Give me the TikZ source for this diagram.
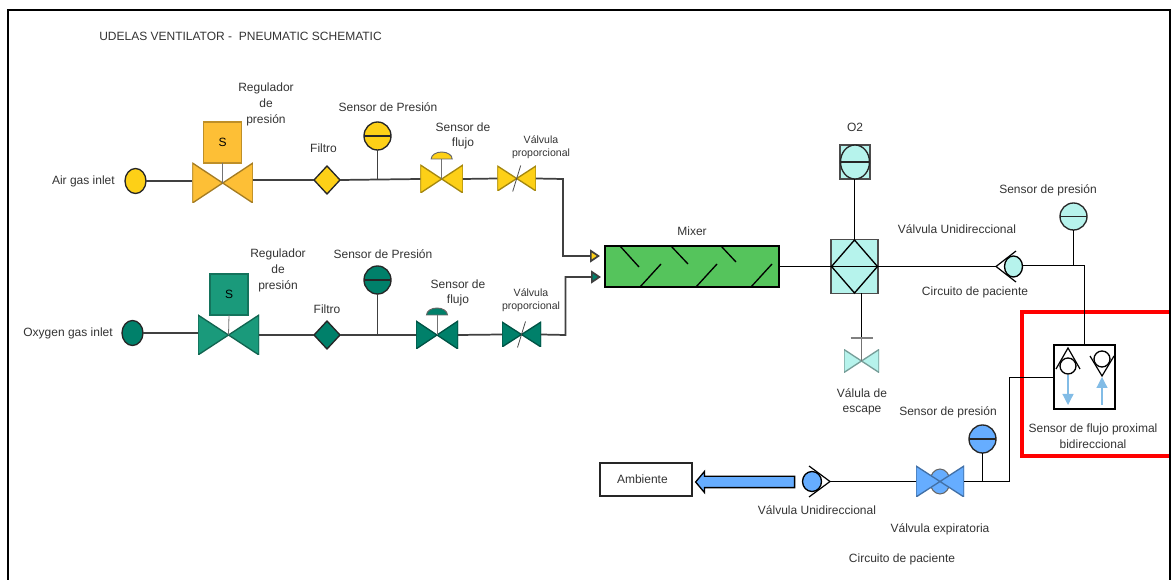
\documentclass[tikz,border=0pt]{standalone}
\usepackage{fontspec}
\setmainfont{Liberation Sans}
\usetikzlibrary{shapes, positioning, calc, arrows.meta}

\definecolor{airc}{HTML}{FDD017}
\definecolor{airreg}{HTML}{FDBF36}
\definecolor{oxyc}{HTML}{00806A}
\definecolor{oxyreg}{HTML}{1A9A7B}
\definecolor{mixc}{HTML}{55C45C}
\definecolor{cyanc}{HTML}{B6F3EC}
\definecolor{bluec}{HTML}{66ADFF}
\definecolor{flowc}{HTML}{82BCE6}
\definecolor{redc}{HTML}{FF0000}

\begin{document}
\begin{tikzpicture}[x=0.75pt, y=0.75pt]
  \newcommand\px{0.75pt}
  \newcommand\fsz{\fontsize{9}{11.7}\selectfont}
  \newcommand\fszsmall{\fontsize{7.9}{9.9}\selectfont}

  \tikzset{lbl/.style={inner sep=0, align=center, text=black!80, font=\fsz}}
  \tikzset{lblsmall/.style={lbl, font=\fszsmall}}
  \tikzset{sized/.style 2 args={inner sep=0, outer sep=0, minimum width=#1*\px, minimum height=#2*\px}}
  \tikzset{pipe/.style={line width=1.3pt, draw=black!75}}
  \tikzset{thinpipe/.style={line width=0.8pt, draw=black}}
  \tikzset{stem/.style={line width=0.6pt, draw=black!55}}
  \tikzset{bowtie/.style={path picture={
    \filldraw[fill=#1, draw=#1!65!black, line width=1pt] (path picture bounding box.north west) --
              (path picture bounding box.south east) --
              (path picture bounding box.north east) --
              (path picture bounding box.south west) -- cycle;}}}
  \tikzset{sensor/.style={ellipse, draw=black!85, line width=1pt, fill=#1, path picture={
    \draw[line width=1pt, black!85] (path picture bounding box.west) -- (path picture bounding box.east);}}}
  \tikzset{inlet/.style={ellipse, draw=black!85, line width=1pt, fill=#1}}
  \tikzset{filterbox/.style={diamond, aspect=0.93, draw=black!85, line width=1pt, fill=#1}}
  \tikzset{regbox/.style={draw=#1!75!black, line width=0.8pt, fill=#1, font=\fsz}}
  \tikzset{fedarrow/.style={pipe, -{Triangle[length=10*\px, width=13*\px, fill=#1]}}}
  \tikzset{chevron/.style={line width=0.9pt, draw=black}}
  \tikzset{flowarrow/.style={line width=0.9pt, flowc, -{Triangle[length=11*\px, width=11*\px]}}}

  \useasboundingbox (0, 0) rectangle (1171, -580);

  % highlight
  \draw[line width=3pt, redc] (1171, -312) -- (1021.5, -312) -- (1021.5, -456) -- (1171, -456);

  % frame
  \draw[line width=1.6pt, black] (8, -580) -- (8, -10) -- (1170, -10) -- (1170, -580);
  \node[lbl, anchor=west] at (99, -36) (title) {UDELAS VENTILATOR -\ \ PNEUMATIC SCHEMATIC};

  % air line
  \node[sized={21}{25}, inlet=airc] at (135.5, -181) (air-in) {};
  \node[sized={60.5}{40}, bowtie=airreg] at (222.7, -183) (air-reg) {};
  \node[sized={37.5}{41}, regbox=airreg] at (222.7, -142.5) (air-reg-s) {S};
  \node[sized={26}{28}, filterbox=airc] at (327, -180) (air-filter) {};
  \node[sized={27}{28}, sensor=airc] at (377.5, -136) (air-press) {};
  \node[sized={42.5}{28}, bowtie=airc] at (441.7, -179) (air-flow) {};
  \node[sized={38.5}{25}, bowtie=airc] at (516.7, -178.5) (air-prop) {};
  \coordinate (air-bend) at (563, -179);

  % oxygen line
  \node[sized={21}{25}, inlet=oxyc] at (132.5, -333) (oxy-in) {};
  \node[sized={61}{40}, bowtie=oxyreg] at (228.5, -335) (oxy-reg) {};
  \node[sized={38}{41}, regbox=oxyreg] at (229, -294.5) (oxy-reg-s) {S};
  \node[sized={26}{28}, filterbox=oxyc] at (327, -335) (oxy-filter) {};
  \node[sized={27}{28}, sensor=oxyc] at (377.5, -280) (oxy-press) {};
  \node[sized={42}{28}, bowtie=oxyc] at (437, -335) (oxy-flow) {};
  \node[sized={39}{25}, bowtie=oxyc] at (521.5, -334.5) (oxy-prop) {};
  \coordinate (oxy-bend) at (565.5, -335);

  \foreach \gas/\cap in {air/airc, oxy/oxyc}{
    \draw[stem] (\gas-reg-s.south) -- (\gas-reg.center);
    \draw[pipe] (\gas-in.east) -- (\gas-in.east -| \gas-reg.west);
    \draw[pipe] (\gas-filter.west -| \gas-reg.east) -- (\gas-filter.west);
    \draw[pipe] (\gas-filter.east) -- (\gas-flow.west);
    \draw[pipe] (\gas-flow.east) -- (\gas-prop.west);
    \draw[pipe] (\gas-press.south) -- (\gas-press.south |- \gas-filter.east);
    \draw[stem] (\gas-flow.center) -- ++(0, 20) coordinate (\gas-cap);
    \filldraw[fill=\cap, draw=black!60, line width=0.7pt] ($(\gas-cap)+(-10.5, 0)$) arc[start angle=180, end angle=0, x radius=10.5, y radius=7] -- cycle;
    \draw[line width=0.6pt, black!70] ($(\gas-prop.center)+(-4, -13)$) -- ($(\gas-prop.center)+(4, 13)$);
  }
  \coordinate (mixer-in1) at (600, -256);
  \coordinate (mixer-in2) at (601, -277);
  \draw[fedarrow=airc] (air-prop.east) -- (air-bend) |- (mixer-in1);
  \draw[fedarrow=oxyc] (oxy-prop.east) -- (oxy-bend) |- (mixer-in2);

  % mixer
  \node[sized={174}{41}, draw=black, line width=1pt, fill=mixc] at (692, -266.5) (mixer) {};
  \foreach \xa/\ya/\xb/\yb in {620/246/639/267, 671/246/688/264, 721/246/736/262, 640/287/661/264, 696/287/717/264, 751/287/772/264}{
    \draw[line width=1pt, black] (\xa, -\ya) -- (\xb, -\yb);
  }

  % oxygen cell and junction block
  \node[sized={47}{54}, draw=black!70, line width=1pt, fill=cyanc] at (854.5, -266.5) (block) {};
  \node[sized={46}{53}, diamond, draw=black, line width=1pt, path picture={
    \draw[line width=1pt] (path picture bounding box.west) -- (path picture bounding box.east);}] at (854.5, -266.5) (block-d) {};
  \node[sized={30}{34}, draw=black!70, line width=1pt, fill=cyanc] at (855, -162) (o2) {};
  \node[sized={29}{34}, sensor=cyanc] at (855, -162) (o2-s) {};
  \draw[thinpipe] (o2-s.south -| block-d.north) -- (block-d.north);
  \draw[thinpipe] (mixer.east |- block) -- (block-d.west);

  % escape
  \node[sized={35}{23}, bowtie=cyanc] at (861.5, -361) (esc) {};
  \coordinate (esc-bar) at (861.5, -338);
  \draw[thinpipe] (block.south -| esc) -- (esc-bar);
  \draw[stem] (esc-bar) -- (esc.center);
  \draw[line width=0.8pt, black!50] ($(esc-bar)+(-11, 0)$) -- ($(esc-bar)+(11, 0)$);

  % patient inspiratory side
  \node[sized={18}{21}, ellipse, draw=black, line width=1pt, fill=cyanc] at (1013.5, -266.5) (chk1) {};
  \coordinate (chk1-tip) at (996, -266.5);
  \draw[chevron] (1016, -251) -- (chk1-tip) -- (1016, -282);
  \draw[thinpipe] (block-d.east) -- (chk1-tip);
  \node[sized={27}{27}, sensor=cyanc] at (1073.5, -216.5) (press1) {};
  \coordinate (riser) at (1084.5, -265.5);
  \draw[thinpipe] (chk1.east |- riser) -- (riser);
  \draw[thinpipe] (press1.south) -- (press1.south |- riser);

  % proximal flow sensor
  \node[sized={61}{64}, draw=black, line width=1pt] at (1084.5, -377) (prox) {};
  \draw[thinpipe] (riser) -- (riser |- prox.north);
  \node[sized={16}{16}, circle, draw=black, line width=1pt] at (1068, -366) (prox-l) {};
  \node[sized={16}{16}, circle, draw=black, line width=1pt] at (1102, -359) (prox-r) {};
  \draw[chevron] (1056, -369) -- (1068, -348) -- (1080, -369);
  \draw[chevron] (1090, -356) -- (1102, -376) -- (1114, -356);
  \draw[flowarrow] (1068, -375) -- (1068, -405);
  \draw[flowarrow] (1102, -405) -- (1102, -377);

  % patient expiratory side
  \coordinate (prox-bend) at (1009.5, -377.5);
  \coordinate (exp-bend) at (1009.5, -481.5);
  \node[sized={27}{28}, sensor=bluec] at (982.5, -439) (press2) {};
  \node[sized={20}{25}, ellipse, draw=black!60, line width=0.8pt, fill=bluec] at (940, -481.5) (exp-c) {};
  \node[sized={48}{31}, bowtie=bluec] at (940, -481.5) (exp) {};
  \draw[thinpipe] (prox.west |- prox-bend) -- (prox-bend) -- (exp-bend) -- (exp.east |- exp-bend);
  \draw[thinpipe] (press2.south) -- (press2.south |- exp-bend);
  \node[sized={19}{20}, ellipse, draw=black, line width=1pt, fill=bluec] at (812, -481.5) (chk2) {};
  \coordinate (chk2-tip) at (830, -481.5);
  \draw[chevron] (809, -466) -- (chk2-tip) -- (809, -497);
  \draw[thinpipe] (exp.west |- chk2-tip) -- (chk2-tip);
  \node[single arrow, rotate=180, sized={20}{99}, inner ysep=5*\px, single arrow head extend=5*\px, single arrow tip angle=100,
        draw=black, line width=1pt, fill=bluec] at (747.5, -482) (out) {};
  \node[draw=black!85, line width=1pt, inner ysep=0, inner xsep=17*\px, minimum height=33*\px, text width=58*\px, align=left, text=black!80, font=\fsz] at (646, -479.5) (amb) {Ambiente};

  % labels
  \node[lbl, left=10 of air-in] (air-in-l) {Air gas inlet};
  \node[lbl, left=9 of oxy-in] (oxy-in-l) {Oxygen gas inlet};
  \node[lbl] at (266, -104.5) (air-reg-l) {Regulador\\de\\presión};
  \node[lbl] at (278, -270.5) (oxy-reg-l) {Regulador\\de\\presión};
  \node[lbl] at (323.5, -148) (air-filter-l) {Filtro};
  \node[lbl] at (327, -309) (oxy-filter-l) {Filtro};
  \node[lbl] at (388, -107) (air-press-l) {Sensor de Presión};
  \node[lbl] at (383, -254) (oxy-press-l) {Sensor de Presión};
  \node[lbl] at (463, -136) (air-flow-l) {Sensor de\\flujo};
  \node[lbl] at (458, -293) (oxy-flow-l) {Sensor de\\flujo};
  \node[lblsmall] at (541, -147.5) (air-prop-l) {Válvula\\proporcional};
  \node[lblsmall] at (531, -300.5) (oxy-prop-l) {Válvula\\proporcional};
  \node[lbl, above=10 of mixer] (mixer-l) {Mixer};
  \node[lbl] at (855, -127) (o2-l) {O2};
  \node[lbl] at (862, -402) (esc-l) {Válula de\\escape};
  \node[lbl] at (957, -229) (chk1-l) {Válvula Unidireccional};
  \node[lbl] at (975, -292) (circ1-l) {Circuito de paciente};
  \node[lbl] at (1048, -190) (press1-l) {Sensor de presión};
  \node[lbl] at (948, -412) (press2-l) {Sensor de presión};
  \node[lbl] at (1093, -436) (prox-lbl) {Sensor de flujo proximal\\bidireccional};
  \node[lbl] at (817, -510) (chk2-l) {Válvula Unidireccional};
  \node[lbl] at (940, -529) (exp-l) {Válvula expiratoria};
  \node[lbl] at (902, -559) (circ2-l) {Circuito de paciente};
\end{tikzpicture}
\end{document}
